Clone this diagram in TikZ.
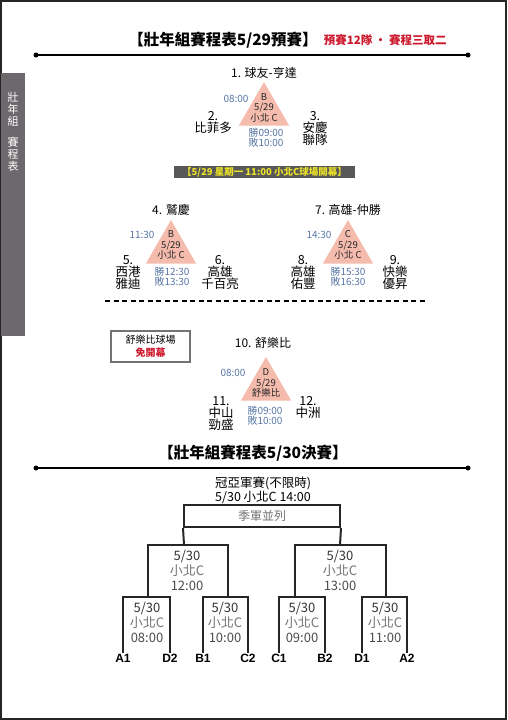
\documentclass[tikz,border=0pt]{standalone}
\usepackage{fontspec}
\setmainfont{Noto Sans CJK TC}
\newfontfamily\arialf{Liberation Sans}
\usetikzlibrary{shapes.geometric}

\definecolor{salmon}{RGB}{245,188,174}
\definecolor{timeblue}{RGB}{88,118,165}
\definecolor{hotred}{RGB}{205,25,45}
\definecolor{tabgray}{RGB}{108,104,108}
\definecolor{bargray}{RGB}{88,88,88}
\definecolor{baryellow}{RGB}{236,226,40}
\definecolor{txtgray}{RGB}{115,115,115}

\begin{document}
\begin{tikzpicture}[x=1pt,y=-1pt,line width=1.5pt,
  every node/.style={inner sep=0pt},
  heading/.style={font=\fontsize{15.5}{16}\selectfont\bfseries},
  grp/.style={font=\fontsize{12}{12}\selectfont},
  tri/.style={regular polygon,regular polygon sides=3,minimum size=58pt,fill=salmon},
  inside/.style={align=center,text=black!85,font=\fontsize{9.5}{10.5}\selectfont},
  tm/.style={text=timeblue,font=\fontsize{10}{10}\selectfont},
  wl/.style={align=center,text=timeblue,font=\fontsize{10}{10}\selectfont},
  team/.style={align=center,anchor=north,font=\fontsize{12.5}{12}\selectfont},
  slot/.style={align=center,font=\fontsize{13}{15}\selectfont},
  lab/.style={outer sep=1pt,font=\arialf\bfseries\fontsize{12}{12}\selectfont},
  bk/.style={line width=2pt,black!85}]
  \useasboundingbox (0,0) rectangle (507,720);
  \draw[black!85] (1,1) rectangle (506,719);
  % side tab
  \fill[tabgray] (1,73) rectangle (25,336);
  \node[anchor=north,align=center,text=white!92,font=\fontsize{11}{12}\selectfont] (tab) at (13,92)
    {壯\\年\\組\\[9pt]賽\\程\\表};

  % 5/29 prelims
  \node[heading] (h1) at (223,40) {【壯年組賽程表5/29預賽】};
  \node[anchor=west,text=hotred,font=\fontsize{11.5}{12}\selectfont\bfseries] (h1r) at (323,40) {預賽12隊 · 賽程三取二};
  \draw (36,55) -- (468,55);
  \fill (36,55) circle (2.5pt) (468,55) circle (2.5pt);

  \node[grp] (g1) at (264,73) {1. 球友-亨達};
  \node[tri] (tri1) at (264,111) {};
  \node[inside] (in1) at (264,107.5) {B\\5/29\\小北 C};
  \node[tm] (tm1) at (236,99) {08:00};
  \node[wl] (wl1) at (266,138) {勝09:00\\敗10:00};
  \node[team] (p2) at (213,111) {2.\\比菲多};
  \node[team] (p3) at (315,111) {3.\\安慶\\聯隊};

  \node[minimum width=181pt,minimum height=12pt,fill=bargray,text=baryellow,font=\fontsize{9.5}{10}\selectfont\bfseries] (open) at (264.5,172)
    {【5/29 星期一 11:00 小北C球場開幕】};

  \node[grp] (g4) at (171,210) {4. 鷲慶};
  \node[tri] (tri4) at (171,249) {};
  \node[inside] (in4) at (171,245) {B\\5/29\\小北 C};
  \node[tm] (tm4) at (142,235) {11:30};
  \node[wl] (wl4) at (172,277) {勝12:30\\敗13:30};
  \node[team] (p5) at (128,255) {5.\\西港\\雅迪};
  \node[team] (p6) at (220,255) {6.\\高雄\\千百亮};

  \node[grp] (g7) at (348,210) {7. 高雄-仲勝};
  \node[tri] (tri7) at (348,249) {};
  \node[inside] (in7) at (348,245) {C\\5/29\\小北 C};
  \node[tm] (tm7) at (319,235) {14:30};
  \node[wl] (wl7) at (348,277) {勝15:30\\敗16:30};
  \node[team] (p8) at (303,255) {8.\\高雄\\佑豐};
  \node[team] (p9) at (395,255) {9.\\快樂\\優昇};

  \draw[line width=2pt,dash pattern=on 5pt off 3.5pt] (105,300.5) -- (425,300.5);

  \node[draw=black!55,line width=1.2pt,minimum width=79pt,minimum height=31pt,align=center,font=\fontsize{10}{13}\selectfont] (venue) at (150.5,346.5)
    {舒樂比球場\\\textcolor{hotred}{\bfseries 免開幕}};
  \node[grp] (g10) at (263,343) {10. 舒樂比};
  \node[tri] (tri10) at (266,386) {};
  \node[inside] (in10) at (266,383) {D\\5/29\\舒樂比};
  \node[tm] (tm10) at (233,373) {08:00};
  \node[wl] (wl10) at (265,416) {勝09:00\\敗10:00};
  \node[team] (p11) at (221,396) {11.\\中山\\勁盛};
  \node[team] (p12) at (308,396) {12.\\中洲};

  % 5/30 finals
  \node[heading] (h2) at (253,453) {【壯年組賽程表5/30決賽】};
  \draw (36,468) -- (468,468);
  \fill (36,468) circle (2.5pt) (468,468) circle (2.5pt);

  \node[align=center,font=\fontsize{12.5}{14}\selectfont] (fin) at (263,490) {冠亞軍賽(不限時)\\5/30 小北C 14:00};
  \node[draw,bk,minimum width=156pt,minimum height=22pt,text=txtgray,font=\fontsize{12}{12}\selectfont] (third) at (262,516) {季軍並列};

  \coordinate (s1) at (184,545);
  \coordinate (s2) at (340,545);
  \coordinate (q1) at (148,597);
  \coordinate (q2) at (228,597);
  \coordinate (q3) at (295,597);
  \coordinate (q4) at (386,597);

  \node[lab] (a1) at (123,658) {A1};
  \node[lab] (d2) at (170,658) {D2};
  \node[lab] (b1) at (203,658) {B1};
  \node[lab] (c2) at (248,658) {C2};
  \node[lab] (c1) at (279,658) {C1};
  \node[lab] (b2) at (325,658) {B2};
  \node[lab] (d1) at (362,658) {D1};
  \node[lab] (a2) at (407,658) {A2};

  \draw[bk] (third.south west) -- (s1);
  \draw[bk] (third.south east) -- (s2);
  \draw[bk] (q1) |- (s1) -| (q2);
  \draw[bk] (q3) |- (s2) -| (q4);
  \draw[bk] (a1.north) |- (q1) -| (d2.north);
  \draw[bk] (b1.north) |- (q2) -| (c2.north);
  \draw[bk] (c1.north) |- (q3) -| (b2.north);
  \draw[bk] (d1.north) |- (q4) -| (a2.north);

  \node[slot] (m1) at (187,570) {\textcolor{black!80}{5/30}\\\textcolor{txtgray}{小北C}\\\textcolor{black!70}{12:00}};
  \node[slot] (m2) at (340,570) {\textcolor{black!80}{5/30}\\\textcolor{txtgray}{小北C}\\\textcolor{black!70}{13:00}};
  \node[slot] (k1) at (147,622) {\textcolor{black!80}{5/30}\\\textcolor{txtgray}{小北C}\\\textcolor{black!70}{08:00}};
  \node[slot] (k2) at (225,622) {\textcolor{black!80}{5/30}\\\textcolor{txtgray}{小北C}\\\textcolor{black!70}{10:00}};
  \node[slot] (k3) at (302,622) {\textcolor{black!80}{5/30}\\\textcolor{txtgray}{小北C}\\\textcolor{black!70}{09:00}};
  \node[slot] (k4) at (385,622) {\textcolor{black!80}{5/30}\\\textcolor{txtgray}{小北C}\\\textcolor{black!70}{11:00}};
\end{tikzpicture}
\end{document}
